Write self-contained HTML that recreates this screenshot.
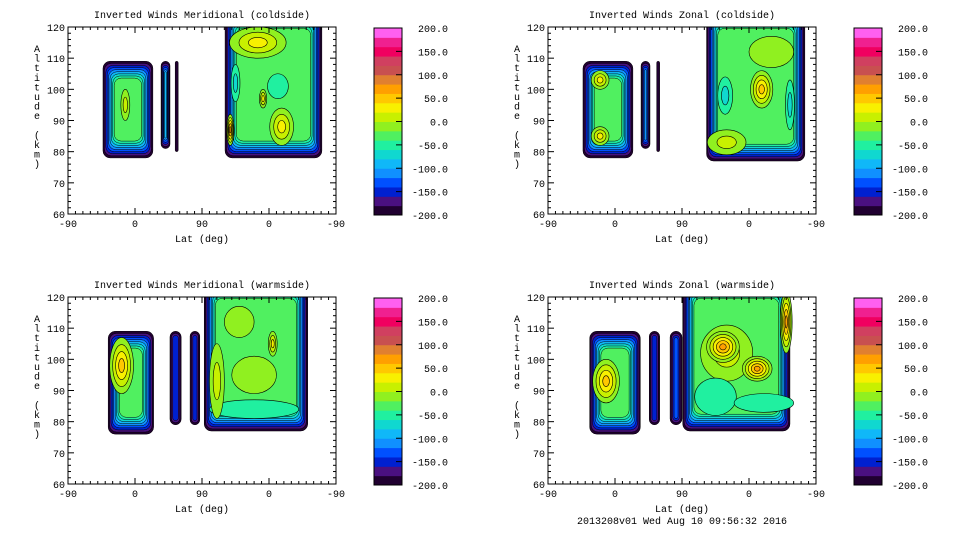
<!DOCTYPE html>
<html><head><meta charset="utf-8"><style>
html,body{margin:0;padding:0;background:#fff;width:960px;height:540px;overflow:hidden}
svg text{font-family:"Liberation Mono",monospace;font-size:10px;fill:#000}
</style></head><body>
<svg id="chart" width="960" height="540" xmlns="http://www.w3.org/2000/svg"></svg>
<script>
// colour levels (-200..200 step 20)
const levelValues = [-200,-180,-160,-140,-120,-100,-80,-60,-40,-20,0,20,40,60,80,100,120,140,160,180];
const levelColors = ["#200030","#4a1080","#0020d0","#0050ff","#1090ff","#10b8f8","#10d8d0","#20f0a0","#50f060","#90f020","#c8f000","#f8f000","#ffc800","#ffa000","#e08030","#c85050","#d04060","#f00060","#f02090","#ff60f0"];
const cbarLabels = ["200.0","150.0","100.0","50.0","0.0","-50.0","-100.0","-150.0","-200.0"];
const xTickLabels = ["-90","0","90","0","-90"];
const yTickValues = [60,70,80,90,100,110,120];
const panelTitles = ["Inverted Winds Meridional (coldside)","Inverted Winds Zonal (coldside)","Inverted Winds Meridional (warmside)","Inverted Winds Zonal (warmside)"];
// blocks: [u0,u1,altBottom,altTop,innerValue]
const blocks1 = [[47,114,78,109,-30],[125,137,81,109,-100],[144,148,80,109,-200],[211,341,78,125,-30]];
const blocks2 = [[47,114,78,109,-30],[125,137,81,109,-110],[146,150,80,109,-200],[213,345,77,125,-30]];
const blocks3 = [[54,115,76,109,-30],[137,152,79,109,-150],[164,177,79,109,-150],[183,322,77,125,-30]];
const blocks4 = [[56,124,76,109,-30],[136,150,79,109,-150],[164,180,79,109,-140],[181,325,77,125,-30]];
// spots: [u, alt, radiusU, radiusAlt, value, baseValue]
const spots1 = [[77,95,6,5,10,-30],[255,115,38,5,30,-30],[287,88,16,6,30,-30],[262,97,5,3,30,-30],[225,102,6,6,-70,-30],[282,101,14,4,-50,-30],[218,87,5,5,60,-30]];
const spots2 = [[70,103,12,3,30,-30],[70,85,12,3,30,-30],[287,100,15,6,40,-30],[238,98,10,6,-70,-30],[240,83,26,4,10,-30],[325,95,6,8,-70,-30],[300,112,30,5,-10,-30]];
const spots3 = [[72,98,16,9,40,-30],[275,105,6,4,30,-30],[250,84,60,3,-50,-30],[200,93,10,12,10,-30],[250,95,30,6,-10,-30],[230,112,20,5,-10,-30]];
const spots4 = [[78,93,18,7,40,-30],[240,102,35,9,0,-30],[235,104,22,5,60,-30],[281,97,20,4,60,-30],[320,112,8,10,70,-30],[225,88,28,6,-60,-30],[290,86,40,3,-50,-30],[255,116,40,4,-40,-30]];

const panelBlocks=[blocks1,blocks2,blocks3,blocks4];
const panelSpots=[spots1,spots2,spots3,spots4];
const NS="http://www.w3.org/2000/svg";
const svg=document.getElementById('chart');
function mk(tag,attrs,parent){const e=document.createElementNS(NS,tag);for(const k in attrs)e.setAttribute(k,attrs[k]);(parent||svg).appendChild(e);return e;}
function lvl(v){let i=Math.floor((v+200)/20);return Math.max(0,Math.min(19,i));}

const origins=[[0,0],[480,0],[0,270],[480,270]];
const PW=268,PH=187;
origins.forEach((o,p)=>{
  const L=68+o[0],T=27+o[1];
  const xs=u=>L+u*PW/360;
  const ys=a=>T+(120-a)*PH/60;
  const g=mk('g',{});
  
  
  const cp=mk('clipPath',{id:'cp'+p},g);
  mk('rect',{x:L,y:T,width:PW,height:PH},cp);
  const plot=mk('g',{'clip-path':'url(#cp'+p+')'},g);
  
  
  panelBlocks[p].forEach(b=>{
    const x0=xs(b[0]),x1=xs(b[1]),y0=ys(b[3]),y1=ys(b[2]);
    const n=lvl(b[4]);
    const w=x1-x0;
    const dx=Math.min(1.4,w/2/(n+1.5));
    for(let k=0;k<=n;k++){
      const ix=dx*k,iy=2.1*k;
      if(x1-x0-2*ix<=0.5)break;
      const r=mk('rect',{x:x0+ix,y:y0+iy,width:x1-x0-2*ix,height:Math.max(1,y1-y0-2*iy),rx:Math.min(7,(x1-x0-2*ix)/2),fill:levelColors[k],stroke:'#000','stroke-width':0.5},plot);
      
      
    }
  });
  panelSpots[p].forEach(s=>{
    const b=lvl(s[5]),t=lvl(s[4]);
    const steps=Math.abs(t-b);const dir=t>b?1:-1;
    for(let k=1;k<=steps;k++){
      const f=1-(k-1)/steps;
      const e=mk('ellipse',{cx:xs(s[0]),cy:ys(s[1]),rx:s[2]*PW/360*f,ry:s[3]*PH/60*f,fill:levelColors[b+dir*k],stroke:'#000','stroke-width':0.6},plot);
      
      
    }
  });
  mk('rect',{x:L,y:T,width:PW,height:PH,fill:'none',stroke:'#000','stroke-width':1},g);
  for(let d=0;d<=360;d+=10){
    const x=xs(d),major=d%90===0;const len=major?6:3;
    mk('line',{x1:x,y1:T+PH,x2:x,y2:T+PH-len,stroke:'#000','stroke-width':1},g);
    mk('line',{x1:x,y1:T,x2:x,y2:T+len,stroke:'#000','stroke-width':1},g);
  }
  xTickLabels.forEach((t,i)=>{const tx=mk('text',{x:xs(i*90),y:T+PH+13,'text-anchor':'middle'},g);tx.textContent=t;
    });
  for(let a=60;a<=120;a+=2){
    const y=ys(a),major=a%10===0;const len=major?6:3;
    mk('line',{x1:L,y1:y,x2:L+len,y2:y,stroke:'#000','stroke-width':1},g);
    mk('line',{x1:L+PW,y1:y,x2:L+PW-len,y2:y,stroke:'#000','stroke-width':1},g);
  }
  yTickValues.forEach(v=>{const tx=mk('text',{x:L-3,y:ys(v)+4,'text-anchor':'end'},g);tx.textContent=v;
    });
  const tt=mk('text',{x:L+PW/2,y:T-9,'text-anchor':'middle'},g);tt.textContent=panelTitles[p];
  
  const xl=mk('text',{x:L+PW/2,y:T+PH+28,'text-anchor':'middle'},g);xl.textContent='Lat (deg)';
  
  const yl="Altitude (km)";
  const yg=mk('g',{},g);
  
  for(let i=0;i<yl.length;i++){const c=mk('text',{x:o[0]+37,y:T+25+i*9.6,'text-anchor':'middle'},yg);c.textContent=yl[i];}
  const CX=374+o[0],CT=28+o[1],CH=187,CW=28;
  const cb=mk('g',{},g);
  
  levelColors.forEach((c,i)=>{mk('rect',{x:CX,y:CT+CH-(i+1)*CH/20,width:CW,height:CH/20+0.5,fill:c},cb);});
  mk('rect',{x:CX,y:CT,width:CW,height:CH,fill:'none',stroke:'#000','stroke-width':1},cb);
  cbarLabels.forEach((t,i)=>{const y=CT+i*CH/8;
    if(i>0&&i<8)mk('line',{x1:CX+CW-6,y1:y,x2:CX+CW,y2:y,stroke:'#000','stroke-width':1},cb);
    const tx=mk('text',{x:448+o[0],y:y+4,'text-anchor':'end'},cb);tx.textContent=t;
    });
});
const ft=mk('text',{x:682,y:524,'text-anchor':'middle'});ft.textContent='2013208v01 Wed Aug 10 09:56:32 2016';

</script>
</body></html>
